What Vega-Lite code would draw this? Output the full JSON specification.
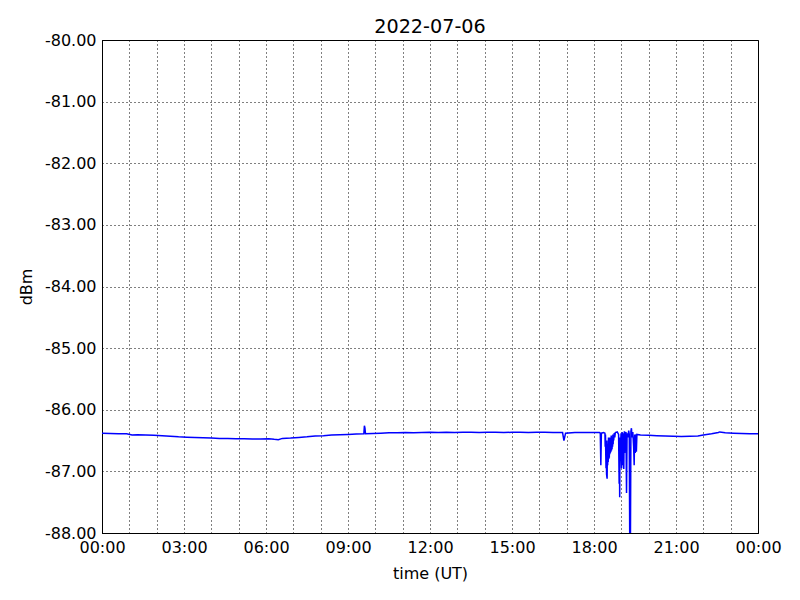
{
  "$schema": "https://vega.github.io/schema/vega-lite/v6.json",
  "width": 656,
  "height": 493,
  "autosize": {"type": "none"},
  "padding": {"left": 102, "top": 40, "right": 42, "bottom": 67},
  "background": "white",
  "title": {"text": "2022-07-06", "font": "DejaVu Sans", "fontSize": 19.2, "fontWeight": "normal", "color": "black", "offset": -5},
  "config": {
    "view": {"stroke": "black", "strokeWidth": 1},
    "axis": {
      "labelFont": "DejaVu Sans", "labelFontSize": 16, "labelColor": "black",
      "titleFont": "DejaVu Sans", "titleFontSize": 16, "titleFontWeight": "normal", "titleColor": "black",
      "domainColor": "black", "tickColor": "black",
      "gridColor": "black", "gridDash": [1, 3], "gridOpacity": 1, "gridWidth": 1
    }
  },
  "data": {"values": [
    {"h": 0.0, "v": -86.38}, {"h": 0.3, "v": -86.385}, {"h": 0.6, "v": -86.39}, {"h": 0.9, "v": -86.39},
    {"h": 1.1, "v": -86.41}, {"h": 1.3, "v": -86.405}, {"h": 1.6, "v": -86.41}, {"h": 1.9, "v": -86.415},
    {"h": 2.2, "v": -86.42}, {"h": 2.5, "v": -86.43}, {"h": 2.8, "v": -86.44}, {"h": 3.1, "v": -86.445},
    {"h": 3.4, "v": -86.45}, {"h": 3.7, "v": -86.455}, {"h": 4.0, "v": -86.46}, {"h": 4.3, "v": -86.465},
    {"h": 4.6, "v": -86.465}, {"h": 4.9, "v": -86.47}, {"h": 5.2, "v": -86.47}, {"h": 5.5, "v": -86.475},
    {"h": 5.8, "v": -86.475}, {"h": 6.1, "v": -86.47}, {"h": 6.3, "v": -86.48}, {"h": 6.45, "v": -86.485},
    {"h": 6.6, "v": -86.465}, {"h": 6.9, "v": -86.46}, {"h": 7.2, "v": -86.45}, {"h": 7.5, "v": -86.44},
    {"h": 7.8, "v": -86.425}, {"h": 8.1, "v": -86.42}, {"h": 8.4, "v": -86.41}, {"h": 8.7, "v": -86.405},
    {"h": 9.0, "v": -86.40}, {"h": 9.3, "v": -86.395}, {"h": 9.58, "v": -86.39}, {"h": 9.6, "v": -86.26},
    {"h": 9.62, "v": -86.30}, {"h": 9.64, "v": -86.39}, {"h": 9.9, "v": -86.385}, {"h": 10.2, "v": -86.38},
    {"h": 10.5, "v": -86.375}, {"h": 10.8, "v": -86.375}, {"h": 11.1, "v": -86.37}, {"h": 11.4, "v": -86.375},
    {"h": 11.7, "v": -86.37}, {"h": 12.0, "v": -86.365}, {"h": 12.3, "v": -86.37}, {"h": 12.6, "v": -86.365},
    {"h": 12.9, "v": -86.37}, {"h": 13.2, "v": -86.365}, {"h": 13.5, "v": -86.365}, {"h": 13.8, "v": -86.37},
    {"h": 14.1, "v": -86.365}, {"h": 14.4, "v": -86.365}, {"h": 14.7, "v": -86.37}, {"h": 15.0, "v": -86.365},
    {"h": 15.3, "v": -86.365}, {"h": 15.6, "v": -86.37}, {"h": 15.9, "v": -86.365}, {"h": 16.2, "v": -86.365},
    {"h": 16.5, "v": -86.37}, {"h": 16.85, "v": -86.37}, {"h": 16.9, "v": -86.50}, {"h": 16.93, "v": -86.44},
    {"h": 16.96, "v": -86.38}, {"h": 17.3, "v": -86.37}, {"h": 17.6, "v": -86.37}, {"h": 17.9, "v": -86.37},
    {"h": 18.2, "v": -86.37}, {"h": 18.23, "v": -86.38}, {"h": 18.25, "v": -86.90}, {"h": 18.27, "v": -86.38},
    {"h": 18.35, "v": -86.37}, {"h": 18.40, "v": -86.38}, {"h": 18.41, "v": -86.60}, {"h": 18.42, "v": -86.40},
    {"h": 18.43, "v": -86.70}, {"h": 18.44, "v": -86.95},
    {"h": 18.45, "v": -86.50}, {"h": 18.46, "v": -87.05},
    {"h": 18.48, "v": -87.12}, {"h": 18.49, "v": -86.55}, {"h": 18.50, "v": -86.90}, {"h": 18.51, "v": -86.50},
    {"h": 18.52, "v": -86.85}, {"h": 18.53, "v": -86.45},
    {"h": 18.54, "v": -86.80}, {"h": 18.55, "v": -86.45}, {"h": 18.56, "v": -86.78}, {"h": 18.57, "v": -86.45},
    {"h": 18.58, "v": -86.72}, {"h": 18.59, "v": -86.45}, {"h": 18.60, "v": -86.70}, {"h": 18.61, "v": -86.45},
    {"h": 18.62, "v": -86.68}, {"h": 18.63, "v": -86.42}, {"h": 18.64, "v": -86.66}, {"h": 18.65, "v": -86.48},
    {"h": 18.66, "v": -86.64}, {"h": 18.67, "v": -86.45}, {"h": 18.68, "v": -86.60}, {"h": 18.69, "v": -86.40},
    {"h": 18.70, "v": -86.56}, {"h": 18.71, "v": -86.40}, {"h": 18.72, "v": -86.50}, {"h": 18.74, "v": -86.38},
    {"h": 18.76, "v": -86.45}, {"h": 18.78, "v": -86.37},
    {"h": 18.85, "v": -86.36}, {"h": 18.9, "v": -86.40}, {"h": 18.92, "v": -87.20},
    {"h": 18.93, "v": -86.60}, {"h": 18.94, "v": -87.42}, {"h": 18.95, "v": -86.45}, {"h": 18.97, "v": -86.60}, {"h": 18.99, "v": -86.38},
    {"h": 19.00, "v": -86.80}, {"h": 19.01, "v": -86.95}, {"h": 19.02, "v": -86.50}, {"h": 19.03, "v": -86.36},
    {"h": 19.04, "v": -86.90}, {"h": 19.05, "v": -86.80}, {"h": 19.06, "v": -86.45}, {"h": 19.07, "v": -86.38},
    {"h": 19.08, "v": -86.85}, {"h": 19.09, "v": -86.96}, {"h": 19.10, "v": -86.50}, {"h": 19.11, "v": -86.35},
    {"h": 19.12, "v": -86.70}, {"h": 19.13, "v": -86.40}, {"h": 19.14, "v": -86.60}, {"h": 19.15, "v": -86.38}, {"h": 19.17, "v": -86.36},
    {"h": 19.19, "v": -87.35}, {"h": 19.21, "v": -86.38}, {"h": 19.24, "v": -86.45}, {"h": 19.27, "v": -86.34},
    {"h": 19.29, "v": -86.40}, {"h": 19.31, "v": -88.40}, {"h": 19.33, "v": -88.40}, {"h": 19.35, "v": -86.35},
    {"h": 19.37, "v": -86.30}, {"h": 19.39, "v": -86.45}, {"h": 19.42, "v": -86.36}, {"h": 19.45, "v": -86.60},
    {"h": 19.47, "v": -86.90}, {"h": 19.48, "v": -86.55}, {"h": 19.49, "v": -86.40}, {"h": 19.50, "v": -86.65}, {"h": 19.51, "v": -86.70}, {"h": 19.52, "v": -86.45}, {"h": 19.53, "v": -86.40},
    {"h": 19.54, "v": -86.60}, {"h": 19.55, "v": -86.68}, {"h": 19.57, "v": -86.40}, {"h": 19.7, "v": -86.41}, {"h": 20.0, "v": -86.415},
    {"h": 20.3, "v": -86.42}, {"h": 20.6, "v": -86.425}, {"h": 20.9, "v": -86.43}, {"h": 21.2, "v": -86.435},
    {"h": 21.5, "v": -86.43}, {"h": 21.8, "v": -86.425}, {"h": 22.0, "v": -86.41}, {"h": 22.3, "v": -86.39},
    {"h": 22.55, "v": -86.37}, {"h": 22.6, "v": -86.36}, {"h": 22.8, "v": -86.375}, {"h": 23.1, "v": -86.38},
    {"h": 23.4, "v": -86.385}, {"h": 23.7, "v": -86.39}, {"h": 24.0, "v": -86.39}
  ]},
  "mark": {"type": "line", "color": "#0000ff", "strokeWidth": 1.5, "clip": true, "interpolate": "linear"},
  "encoding": {
    "x": {
      "field": "h", "type": "quantitative",
      "scale": {"domain": [0, 24], "nice": false, "zero": false},
      "axis": {
        "title": "time (UT)", "titlePadding": 10,
        "values": [0,1,2,3,4,5,6,7,8,9,10,11,12,13,14,15,16,17,18,19,20,21,22,23,24],
        "labelExpr": "datum.value % 3 == 0 ? ((datum.value % 24 < 10 ? '0' : '') + (datum.value % 24) + ':00') : ''",
        "ticks": false, "labelPadding": 6, "labelFlush": false, "labelOverlap": false,
        "grid": true
      }
    },
    "y": {
      "field": "v", "type": "quantitative",
      "scale": {"domain": [-88, -80], "nice": false, "zero": false},
      "axis": {
        "title": "dBm", "titlePadding": 10,
        "values": [-88, -87, -86, -85, -84, -83, -82, -81, -80],
        "labelExpr": "replace(format(datum.value, '.2f'), '\u2212', '-')",
        "ticks": false, "labelPadding": 6, "labelFlush": false, "labelOverlap": false,
        "grid": true
      }
    }
  }
}
